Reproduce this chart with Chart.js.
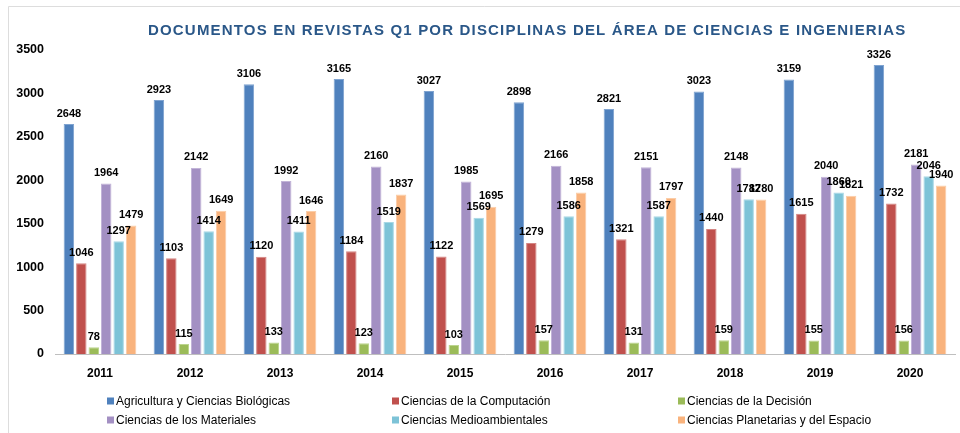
<!DOCTYPE html>
<html>
<head>
<meta charset="utf-8">
<script src="https://cdn.jsdelivr.net/npm/chart.js@4.4.1/dist/chart.umd.min.js"></script>
<style>
  html, body { margin: 0; padding: 0; background: #fff; }
  #wrap { width: 960px; height: 433px; position: relative; }
  canvas { display: block; }
</style>
</head>
<body>
<div id="wrap"><canvas id="c" width="960" height="433"></canvas></div>
<script>
const chartTitle = 'DOCUMENTOS EN REVISTAS Q1 POR DISCIPLINAS DEL ÁREA DE CIENCIAS E INGENIERIAS';
const categories = ['2011','2012','2013','2014','2015','2016','2017','2018','2019','2020'];
const seriesNames = [
  'Agricultura y Ciencias Biológicas',
  'Ciencias de la Computación',
  'Ciencias de la Decisión',
  'Ciencias de los Materiales',
  'Ciencias Medioambientales',
  'Ciencias Planetarias y del Espacio'
];
const agricultura = [2648, 2923, 3106, 3165, 3027, 2898, 2821, 3023, 3159, 3326];
const computacion = [1046, 1103, 1120, 1184, 1122, 1279, 1321, 1440, 1615, 1732];
const decision    = [78, 115, 133, 123, 103, 157, 131, 159, 155, 156];
const materiales  = [1964, 2142, 1992, 2160, 1985, 2166, 2151, 2148, 2040, 2181];
const medioamb    = [1297, 1414, 1411, 1519, 1569, 1586, 1587, 1782, 1860, 2046];
const planetarias = [1479, 1649, 1646, 1837, 1695, 1858, 1797, 1780, 1821, 1940];
const yTicks = [0, 500, 1000, 1500, 2000, 2500, 3000, 3500];

const fills   = ['#4F81BD', '#C0504D', '#9BBB59', '#A390C3', '#7DC3D7', '#F9B37D'];
const borders = ['#7FA3D0', '#D48583', '#BCD58E', '#C2B4D8', '#A8D8E5', '#FBCDA8'];
const seriesValues = [agricultura, computacion, decision, materiales, medioamb, planetarias];

const datasets = seriesValues.map((vals, i) => ({
  label: seriesNames[i],
  data: vals,
  backgroundColor: fills[i],
  borderColor: borders[i],
  borderWidth: 1,
  categoryPercentage: 0.83,
  barPercentage: 0.84
}));

const decorPlugin = {
  id: 'decor',
  beforeDraw(chart) {
    const ctx = chart.ctx;
    ctx.save();
    ctx.fillStyle = '#fff';
    ctx.fillRect(0, 0, chart.width, chart.height);
    ctx.strokeStyle = '#DDDDDD';
    ctx.lineWidth = 1;
    ctx.beginPath();
    ctx.moveTo(8.5, 440); ctx.lineTo(8.5, 6.5); ctx.lineTo(960, 6.5);
    ctx.stroke();
    ctx.restore();
  },
  afterDraw(chart) {
    const ctx = chart.ctx;
    ctx.save();
    // title
    ctx.font = 'bold 15px "Liberation Sans", Arial, sans-serif';
    ctx.fillStyle = '#2A5788';
    ctx.textBaseline = 'middle';
    ctx.textAlign = 'left';
    ctx.letterSpacing = '0px';
    const targetW = 757;
    const w0 = ctx.measureText(chartTitle).width;
    const sp = (targetW - w0) / (chartTitle.length - 1);
    ctx.letterSpacing = sp.toFixed(2) + 'px';
    ctx.fillText(chartTitle, 526.5 - targetW / 2, 30.5);
    ctx.letterSpacing = '0px';

    // data labels
    ctx.font = 'bold 11px "Liberation Sans", Arial, sans-serif';
    ctx.fillStyle = '#000';
    ctx.textAlign = 'center';
    ctx.textBaseline = 'bottom';
    chart.data.datasets.forEach((ds, di) => {
      const meta = chart.getDatasetMeta(di);
      meta.data.forEach((bar, i) => {
        ctx.fillText(String(ds.data[i]), bar.x, bar.y - 5);
      });
    });

    // legend (3 columns x 2 rows)
    const colX = [107, 392, 678];
    const rowY = [401, 420];
    ctx.font = '12px "Liberation Sans", Arial, sans-serif';
    ctx.textAlign = 'left';
    ctx.textBaseline = 'middle';
    chart.data.datasets.forEach((ds, di) => {
      const x = colX[di % 3];
      const y = rowY[Math.floor(di / 3)];
      ctx.fillStyle = ds.backgroundColor;
      ctx.fillRect(x, y - 3.5, 7, 7);
      ctx.fillStyle = '#000';
      ctx.fillText(ds.label, x + 9, y + 0.5);
    });
    ctx.restore();
  }
};

new Chart(document.getElementById('c'), {
  type: 'bar',
  data: { labels: categories, datasets },
  options: {
    responsive: false,
    animation: false,
    layout: { padding: { top: 50, right: 5, bottom: 0, left: 0 } },
    plugins: {
      legend: { display: false },
      title: { display: false },
      tooltip: { enabled: false }
    },
    scales: {
      x: {
        afterFit(scale) { scale.height = 79; },
        grid: { display: true, drawOnChartArea: false, drawTicks: false },
        border: { display: true, color: '#BFBFBF', width: 1 },
        ticks: {
          padding: 12,
          color: '#000',
          font: { family: '"Liberation Sans", Arial, sans-serif', size: 12, weight: 'bold' }
        }
      },
      y: {
        min: 0,
        max: 3500,
        afterFit(scale) { scale.width = 55; },
        afterBuildTicks(scale) { scale.ticks = yTicks.map(v => ({ value: v })); },
        grid: { display: false, drawTicks: false },
        border: { display: false },
        ticks: {
          padding: 11,
          color: '#000',
          callback: (v) => String(v),
          font: { family: '"Liberation Sans", Arial, sans-serif', size: 12.5, weight: 'bold' }
        }
      }
    }
  },
  plugins: [decorPlugin]
});
</script>
</body>
</html>
